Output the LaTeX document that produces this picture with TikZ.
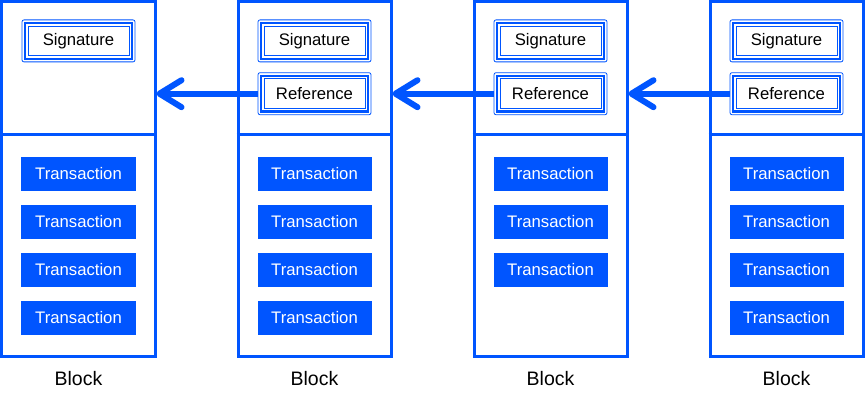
\documentclass[tikz,border=0pt]{standalone}
\usepackage{fontspec}
\setmainfont{Liberation Sans}
\usetikzlibrary{arrows.meta, positioning}
\definecolor{chainblue}{RGB}{0,85,255}

\begin{document}
\begin{tikzpicture}[
x=1pt, y=1pt,
node distance=13.5pt,
block/.style={draw=chainblue, line width=3pt, minimum width=153pt, minimum height=354.5pt},
field/.style={draw=chainblue, line width=0.8pt, rounded corners=2pt, minimum width=113pt, minimum height=42pt, font=\fontsize{16.7pt}{19pt}\selectfont},
tx/.style={fill=chainblue, text=white, minimum width=114pt, minimum height=34pt, font=\fontsize{16.7pt}{19pt}\selectfont},
caption/.style={font=\fontsize{19.5pt}{22pt}\selectfont},
divider/.style={draw=chainblue, line width=3pt},
link/.style={draw=chainblue, line width=6pt, -{Straight Barb[round, length=22pt, width=27pt]}}
]
\useasboundingbox (-78.5,179.25) rectangle (787.5,-221.75);

\node[block] (block1) at (0,0) {};
\node[block, right=80pt of block1] (block2) {};
\node[block, right=80pt of block2] (block3) {};
\node[block, right=80pt of block3] (block4) {};

\foreach \b in {block1,block2,block3,block4}
  \draw[divider] ([yshift=-134.5pt]\b.north west) -- ([yshift=-134.5pt]\b.north east);

% header fields
\node[field, below=19pt of block1.north] (sig1) {Signature};
\node[field, below=19pt of block2.north] (sig2) {Signature};
\node[field, below=10pt of sig2] (ref2) {Reference};
\node[field, below=19pt of block3.north] (sig3) {Signature};
\node[field, below=10pt of sig3] (ref3) {Reference};
\node[field, below=19pt of block4.north] (sig4) {Signature};
\node[field, below=10pt of sig4] (ref4) {Reference};

\foreach \f in {sig1,sig2,ref2,sig3,ref3,sig4,ref4}{
  \draw[chainblue, line width=2.5pt] ([shift={(3.5pt,3.5pt)}]\f.south west) rectangle ([shift={(-3.5pt,-3.5pt)}]\f.north east);
  \draw[chainblue, line width=0.8pt] ([shift={(6.5pt,6.5pt)}]\f.south west) rectangle ([shift={(-6.5pt,-6.5pt)}]\f.north east);
}

% transactions
\node[tx, below=94.5pt of sig1] (tx11) {Transaction};
\node[tx, below=of tx11] (tx12) {Transaction};
\node[tx, below=of tx12] (tx13) {Transaction};
\node[tx, below=of tx13] (tx14) {Transaction};

\node[tx, below=94.5pt of sig2] (tx21) {Transaction};
\node[tx, below=of tx21] (tx22) {Transaction};
\node[tx, below=of tx22] (tx23) {Transaction};
\node[tx, below=of tx23] (tx24) {Transaction};

\node[tx, below=94.5pt of sig3] (tx31) {Transaction};
\node[tx, below=of tx31] (tx32) {Transaction};
\node[tx, below=of tx32] (tx33) {Transaction};

\node[tx, below=94.5pt of sig4] (tx41) {Transaction};
\node[tx, below=of tx41] (tx42) {Transaction};
\node[tx, below=of tx42] (tx43) {Transaction};
\node[tx, below=of tx43] (tx44) {Transaction};

% labels
\node[caption, below=10pt of block1] (name1) {Block};
\node[caption, below=10pt of block2] (name2) {Block};
\node[caption, below=10pt of block3] (name3) {Block};
\node[caption, below=10pt of block4] (name4) {Block};

% hash links
\draw[link] (ref2.west) -- (block1.east |- ref2.west);
\draw[link] (ref3.west) -- (block2.east |- ref3.west);
\draw[link] (ref4.west) -- (block3.east |- ref4.west);

\end{tikzpicture}
\end{document}
